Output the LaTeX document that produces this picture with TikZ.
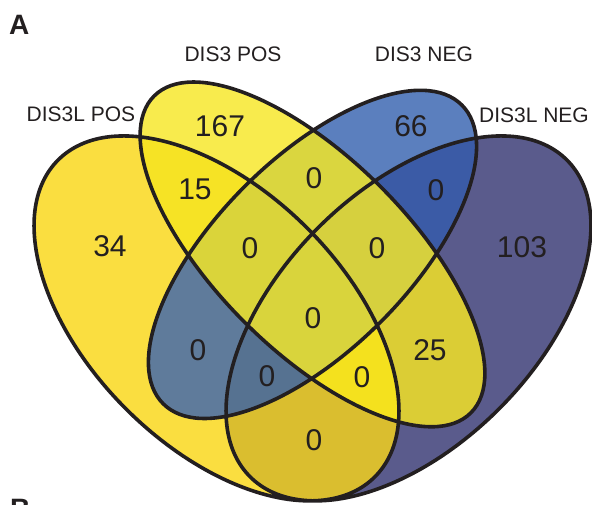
\documentclass[tikz,border=0pt]{standalone}
\usepackage{fontspec}
\setmainfont{Liberation Sans}

% region colours
\definecolor{onlyA}{RGB}{250,222,64}
\definecolor{onlyB}{RGB}{248,235,77}
\definecolor{onlyC}{RGB}{91,127,190}
\definecolor{onlyD}{RGB}{90,91,140}
\definecolor{colAB}{RGB}{246,227,37}
\definecolor{colAC}{RGB}{95,123,155}
\definecolor{colAD}{RGB}{218,190,47}
\definecolor{colBC}{RGB}{218,214,63}
\definecolor{colBD}{RGB}{219,205,53}
\definecolor{colCD}{RGB}{59,91,166}
\definecolor{colABC}{RGB}{218,212,58}
\definecolor{colABD}{RGB}{244,225,30}
\definecolor{colACD}{RGB}{86,114,145}
\definecolor{colBCD}{RGB}{214,208,62}
\definecolor{colABCD}{RGB}{217,212,60}
\definecolor{edge}{RGB}{35,31,32}

% the four sets
\newcommand{\setA}{(216.5,185.6) ellipse [x radius=224pt, y radius=128pt, rotate=135]}
\newcommand{\setB}{(312.5,249.6) ellipse [x radius=224pt, y radius=96pt, rotate=135]}
\newcommand{\setC}{(312.5,249.6) ellipse [x radius=211.2pt, y radius=96pt, rotate=45]}
\newcommand{\setD}{(408.5,185.6) ellipse [x radius=224pt, y radius=128pt, rotate=45]}

\begin{document}
\begin{tikzpicture}[x=1pt, y=1pt,
  count/.style={font=\fontsize{30}{36}\selectfont, text=edge},
  setname/.style={font=\fontsize{21}{25}\selectfont, text=edge},
  panel/.style={font=\fontsize{28}{32}\selectfont\bfseries, text=edge, inner sep=0pt, anchor=base west}]
\useasboundingbox (0,0) rectangle (592,504);

% single sets
\fill[onlyA] \setA;
\fill[onlyB] \setB;
\fill[onlyC] \setC;
\fill[onlyD] \setD;

% two sets
\begin{scope} \clip \setA; \fill[colAB] \setB; \end{scope}
\begin{scope} \clip \setA; \fill[colAC] \setC; \end{scope}
\begin{scope} \clip \setA; \fill[colAD] \setD; \end{scope}
\begin{scope} \clip \setB; \fill[colBC] \setC; \end{scope}
\begin{scope} \clip \setB; \fill[colBD] \setD; \end{scope}
\begin{scope} \clip \setC; \fill[colCD] \setD; \end{scope}

% three sets
\begin{scope} \clip \setA; \clip \setB; \fill[colABC] \setC; \end{scope}
\begin{scope} \clip \setA; \clip \setB; \fill[colABD] \setD; \end{scope}
\begin{scope} \clip \setA; \clip \setC; \fill[colACD] \setD; \end{scope}
\begin{scope} \clip \setB; \clip \setC; \fill[colBCD] \setD; \end{scope}

% all four
\begin{scope} \clip \setA; \clip \setB; \clip \setC; \fill[colABCD] \setD; \end{scope}

% outlines
\draw[edge, line width=3.6pt] \setA \setB \setC \setD;

% set names
\node[setname] (nameA) at (81,390) {DIS3L POS};
\node[setname] (nameB) at (233,450) {DIS3 POS};
\node[setname] (nameC) at (424,450) {DIS3 NEG};
\node[setname] (nameD) at (534,389) {DIS3L NEG};

% counts
\node[count] (nA) at (110,258) {34};
\node[count] (nB) at (220,378) {167};
\node[count] (nC) at (411,378) {66};
\node[count] (nD) at (522,257) {103};
\node[count] (nAB) at (195,315) {15};
\node[count] (nBC) at (314,326) {0};
\node[count] (nCD) at (436,314) {0};
\node[count] (nABC) at (250,256) {0};
\node[count] (nBCD) at (377,256) {0};
\node[count] (nABCD) at (313,186) {0};
\node[count] (nAC) at (198,154) {0};
\node[count] (nBD) at (430,154) {25};
\node[count] (nACD) at (267,128) {0};
\node[count] (nABD) at (362,127) {0};
\node[count] (nAD) at (314,64) {0};

% panel letters
\node[panel] (panA) at (9,469.7) {A};
\node[panel] (panB) at (10,-14.3) {B};
\end{tikzpicture}
\end{document}
